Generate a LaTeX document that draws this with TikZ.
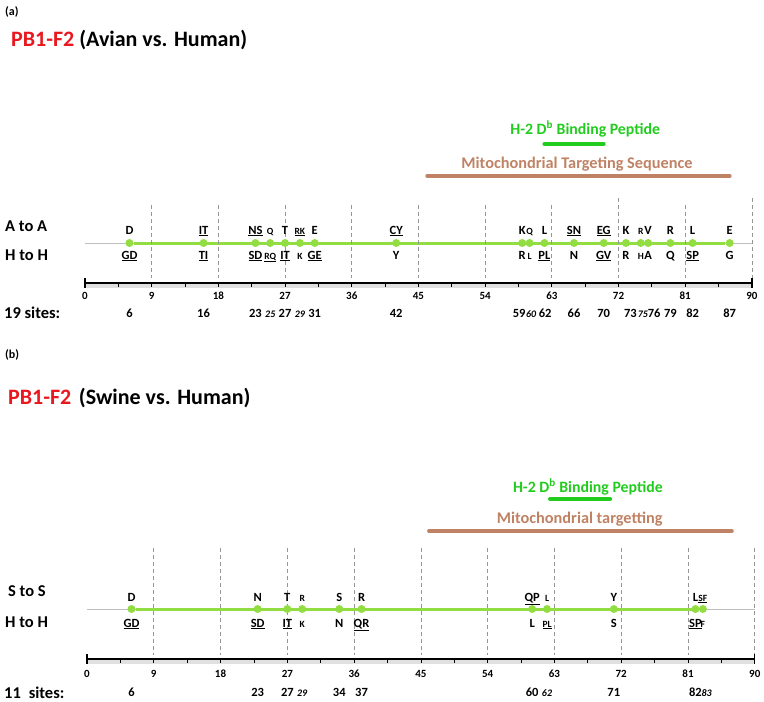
\documentclass[tikz,border=0pt]{standalone}
\usepackage{fontspec}
\setmainfont{Carlito}
\usetikzlibrary{positioning,backgrounds}
\definecolor{pbRed}{RGB}{232,24,30}
\definecolor{pepGreen}{RGB}{34,204,30}
\definecolor{seqGreen}{RGB}{146,222,66}
\definecolor{mitoBrown}{RGB}{192,130,100}
\definecolor{gridGray}{RGB}{150,150,150}
\tikzset{
  site/.style={circle, fill=seqGreen, inner sep=0pt, minimum size=8pt},
  res/.style={anchor=base, inner sep=0pt, font=\bfseries\fontsize{12.5}{14}\selectfont},
  smallres/.style={res, font=\bfseries\fontsize{9.5}{11}\selectfont},
  sitenum/.style={anchor=base, inner sep=0pt, font=\bfseries\fontsize{12.5}{14}\selectfont},
  smallnum/.style={sitenum, font=\bfseries\itshape\fontsize{10}{12}\selectfont},
  ticklab/.style={anchor=base, inner sep=0pt, font=\bfseries\fontsize{11}{12}\selectfont},
  rowlab/.style={anchor=west, inner sep=0pt, font=\bfseries\fontsize{16.5}{18}\selectfont},
  paneltitle/.style={anchor=west, inner sep=0pt, font=\bfseries\fontsize{22}{24}\selectfont},
  paneltag/.style={anchor=west, inner sep=0pt, font=\bfseries\fontsize{12}{14}\selectfont},
  gridline/.style={draw=gridGray, dash pattern=on 4pt off 3pt, line width=0.7pt},
  seqbase/.style={draw=black!25, line width=1pt},
  seqline/.style={draw=seqGreen, line width=3pt},
  axisline/.style={draw=black, line width=1.3pt},
  axisshade/.style={draw=black!12, line width=4pt},
  pepbar/.style={draw=pepGreen, line width=4pt, line cap=round},
  mitobar/.style={draw=mitoBrown, line width=4pt, line cap=round},
  peptext/.style={inner sep=0pt, text=pepGreen, font=\bfseries\fontsize{15.8}{17}\selectfont},
  mitotext/.style={inner sep=0pt, text=mitoBrown, font=\bfseries\fontsize{16.3}{18}\selectfont}
}

\begin{document}
\begin{tikzpicture}[x=1pt, y=-1pt]
\useasboundingbox (0,0) rectangle (764,702);

% ---- panel (a)
\node[paneltag] (tagA) at (5,12) {(a)};
\node[paneltitle] (titleA) at (11,40) {\textcolor{pbRed}{PB1-F2} (Avian vs. Human)};
\node[rowlab] (aaA) at (5,226) {A to A};
\node[rowlab] (hhA) at (5,255) {H to H};
\node[rowlab] (nA) at (4,313) {19 sites:};

\begin{scope}[shift={(85,0)}, x=7.41pt]
\node[peptext] (pepA) at (67.5,129) {H-2 D\textsuperscript{b} Binding Peptide};
\draw[pepbar] (62,144) -- (70,144);
\node[mitotext] (mitoA) at (66.4,164) {Mitochondrial Targeting Sequence};
\draw[mitobar] (46.2,176) -- (87,176);
\foreach \t in {9,18,...,63,81} \draw[gridline] (\t,205) -- (\t,278);
\foreach \t in {72,90} \draw[gridline] (\t,198) -- (\t,278);
% residues
\foreach \p/\u/\d in {6/D/\underline{GD}, 16/\underline{IT}/\underline{TI}, 23/\underline{NS}/\underline{SD},
    27/T/\underline{IT}, 31/E/\underline{GE}, 42/\underline{CY}/Y, 59/K/R, 62/L/\underline{PL},
    66/\underline{SN}/N, 70/\underline{EG}/\underline{GV}, 73/K/R, 76/V/A, 79/R/Q, 82/L/\underline{SP}, 87/E/G}{
  \node[site] (a\p) at (\p,243) {};
  \node[res] at (\p,234) {\u};
  \node[res] at (\p,259) {\d};
}
\foreach \p/\u/\d in {25/Q/\underline{RQ}, 29/\underline{RK}/K, 60/Q/L, 75/R/H}{
  \node[site] (a\p) at (\p,243) {};
  \node[smallres] at (\p,234) {\u};
  \node[smallres] at (\p,259) {\d};
}
\begin{scope}[on background layer]
\draw[seqbase] (0,243) -- (90,243);
\draw[seqline] (a6) -- (a87);
\end{scope}
% axis
\draw[axisshade] (0,286) -- (90,286);
\draw[axisline] (0,283) -- (90,283);
\foreach \t in {4.5,9,...,85.5} \draw[axisline, line width=0.8pt] (\t,282) -- (\t,286.5);
\draw[axisline] (0,278) -- (0,288);
\draw[axisline] (90,278) -- (90,288);
\foreach \t in {0,9,...,90} \node[ticklab] at (\t,299) {\t};
\foreach \x/\n in {6/6, 16/16, 23/23, 27/27, 31/31, 42/42, 58.6/59, 62.1/62, 66/66, 70/70,
    73.6/73, 76.8/76, 79/79, 82/82, 87/87}
  \node[sitenum] at (\x,317) {\n};
\foreach \x/\n in {25/25, 29/29, 60.2/60, 75.3/75}
  \node[smallnum] at (\x,317) {\n};
\end{scope}

% ---- panel (b)
\node[paneltag] (tagB) at (5,355) {(b)};
\node[paneltitle] (titleB) at (8,398) {\textcolor{pbRed}{PB1-F2}\hspace{0.12em} (Swine vs. Human)};
\node[rowlab] (ssB) at (8,591) {S to S};
\node[rowlab] (hhB) at (5,622) {H to H};
\node[rowlab] (nB) at (4,693) {11\hspace{0.25em} sites:};

\begin{scope}[shift={(87,0)}, x=7.42pt]
\node[peptext] (pepB) at (67.5,487) {H-2 D\textsuperscript{b} Binding Peptide};
\draw[pepbar] (62.4,499) -- (70.5,499);
\node[mitotext] (mitoB) at (66.4,519) {Mitochondrial targetting};
\draw[mitobar] (46.1,531) -- (86.9,531);
\foreach \t in {9,18,...,90} \draw[gridline] (\t,548) -- (\t,655);
% residues
\foreach \p/\u/\d in {6/D/\underline{GD}, 23/N/\underline{SD}, 27/T/\underline{IT}, 34/S/N,
    37/R/\underline{QR}, 60/\underline{QP}/L, 71/Y/S, 82/L/\underline{SP}}{
  \node[site] (b\p) at (\p,609) {};
  \node[res] at (\p,601) {\u};
  \node[res] at (\p,627) {\d};
}
\foreach \p/\u/\d in {29/R/K, 62/L/\underline{PL}, 83/\underline{SF}/F}{
  \node[site] (b\p) at (\p,609) {};
  \node[smallres] at (\p,601) {\u};
  \node[smallres] at (\p,627) {\d};
}
\begin{scope}[on background layer]
\draw[seqbase] (0,609) -- (90,609);
\draw[seqline] (b6) -- (b83);
\end{scope}
% axis
\draw[axisshade] (0,662) -- (90,662);
\draw[axisline] (0,659) -- (90,659);
\foreach \t in {4.5,9,...,85.5} \draw[axisline, line width=0.8pt] (\t,658) -- (\t,662.5);
\draw[axisline] (0,654) -- (0,664);
\draw[axisline] (90,654) -- (90,664);
\foreach \t in {0,9,...,90} \node[ticklab] at (\t,677) {\t};
\foreach \x/\n in {6/6, 23/23, 27/27, 34/34, 37/37, 60/60, 71/71, 82/82}
  \node[sitenum] at (\x,696) {\n};
\foreach \x/\n in {29/29, 62/62, 83.5/83}
  \node[smallnum] at (\x,696) {\n};
\end{scope}
\end{tikzpicture}
\end{document}
